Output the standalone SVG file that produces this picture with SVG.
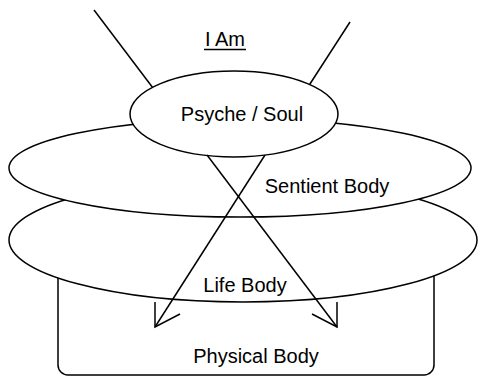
<svg xmlns="http://www.w3.org/2000/svg" width="480" height="376" viewBox="0 0 480 376">
<style>
.s{fill:#fff;stroke:#000;stroke-width:1.5}
.l{fill:none;stroke:#000;stroke-width:1.5}
text{font-family:"Liberation Sans",Arial,sans-serif;font-size:20px;fill:#000;text-anchor:middle}
</style>
<rect width="480" height="376" fill="#fff"/>
<g id="rays" class="l">
<line x1="94" y1="10" x2="156" y2="92"/>
<line x1="350" y1="22" x2="308" y2="87"/>
</g>
<g id="physical"><rect class="s" x="58" y="240" width="376" height="135" rx="10"/></g>
<g id="life"><ellipse class="s" cx="243" cy="240" rx="234" ry="62"/></g>
<g id="sentient"><ellipse class="s" cx="240" cy="168" rx="231" ry="49"/></g>
<g id="psyche"><ellipse class="s" cx="234" cy="114" rx="104" ry="43"/></g>
<g id="connectors" class="l">
<line x1="207" y1="155" x2="337" y2="327"/>
<polyline points="337,302 337,327 312,314"/>
<line x1="265" y1="155" x2="155" y2="327"/>
<polyline points="155,302 155,327 180,314"/>
</g>
<g id="labels">
<text x="225" y="46">I Am</text>
<line x1="204" y1="49.5" x2="246" y2="49.5" stroke="#000" stroke-width="1.5"/>
<text x="242" y="121">Psyche / Soul</text>
<text x="327" y="193">Sentient Body</text>
<text x="245" y="292">Life Body</text>
<text x="256" y="363">Physical Body</text>
</g>
</svg>
